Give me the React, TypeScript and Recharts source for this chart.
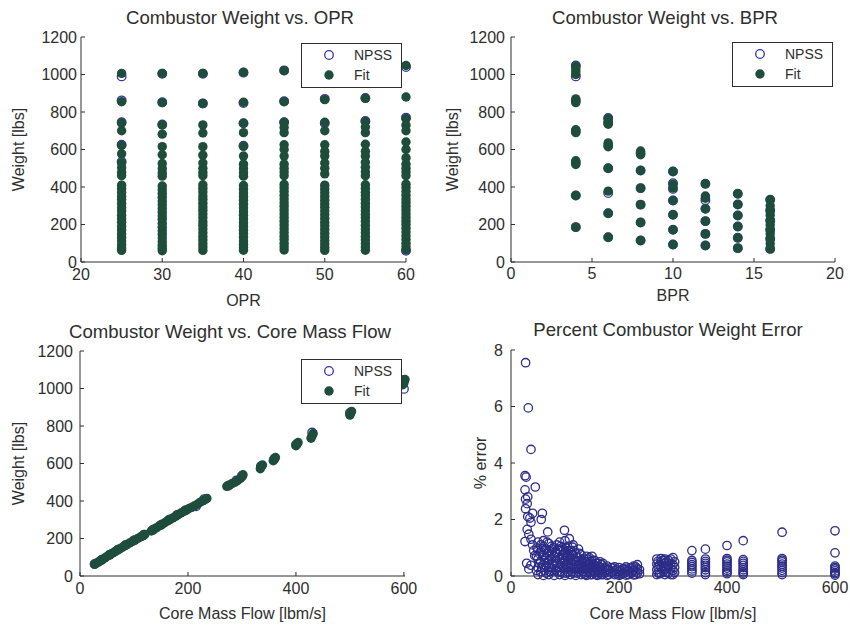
import { ScatterChart, Scatter, XAxis, YAxis, Legend } from "recharts";
import type { ReactNode } from "react";

const FIT = "#1f4d3c";
const NPSS = "#3535a8";
const ERR = "#2c2c88";
const INK = "#2e2e2e";
const FONT = '"Liberation Sans", Arial, Helvetica, sans-serif';

// --- Combustor weight vs OPR (one list of weights per OPR column)
const oprColumns = [25, 30, 35, 40, 45, 50, 55, 60];
const oprFitWeights = [
  [1006, 855, 742, 700, 622, 577, 530, 503, 478, 460, 410, 392, 371, 350, 333, 312, 290, 272, 250, 231, 212, 190, 171, 150, 131, 112, 92, 75, 62],
  [1006, 850, 731, 682, 615, 572, 525, 498, 475, 458, 405, 386, 366, 346, 325, 306, 286, 266, 246, 228, 206, 186, 166, 148, 128, 108, 90, 74, 60],
  [1006, 845, 731, 688, 615, 570, 528, 500, 478, 460, 412, 394, 374, 352, 334, 314, 294, 276, 256, 236, 214, 196, 176, 156, 136, 118, 98, 80, 62],
  [1012, 852, 740, 690, 617, 565, 522, 498, 476, 458, 408, 388, 368, 350, 330, 308, 288, 268, 250, 230, 210, 190, 170, 152, 132, 112, 94, 76, 63],
  [1020, 855, 745, 718, 690, 625, 600, 565, 522, 500, 480, 460, 414, 395, 376, 356, 336, 316, 298, 278, 258, 238, 218, 198, 178, 158, 138, 120, 100, 82, 64],
  [1012, 866, 745, 700, 625, 590, 565, 528, 500, 470, 410, 390, 370, 350, 330, 310, 292, 272, 252, 232, 212, 194, 174, 154, 134, 114, 96, 78, 62],
  [1020, 873, 750, 720, 690, 628, 590, 565, 532, 505, 480, 460, 412, 392, 372, 354, 334, 314, 294, 274, 254, 236, 216, 196, 176, 156, 136, 118, 98, 80, 63],
  [1048, 880, 765, 730, 700, 640, 600, 555, 522, 500, 480, 460, 415, 396, 376, 356, 336, 318, 298, 278, 258, 238, 218, 200, 180, 160, 140, 120, 100, 82, 64],
];
const oprNpssWeights = [
  [990, 862, 745, 625, 535],
  [1004, 852, 733],
  [1004, 846],
  [1010, 848, 740, 620],
  [1022, 857, 745],
  [870, 740],
  [875, 752],
  [1040, 770, 60],
];

// --- Combustor weight vs BPR
const bprColumns = [4, 6, 8, 10, 12, 14, 16];
const bprFitWeights = [
  [186, 355, 520, 540, 690, 705, 850, 870, 1000, 1015, 1030, 1045],
  [132, 260, 378, 500, 615, 635, 735, 750, 765],
  [115, 211, 306, 394, 488, 572, 592],
  [93, 172, 252, 328, 395, 415, 483],
  [88, 150, 218, 284, 340, 352, 417],
  [74, 129, 189, 248, 307, 364],
  [70, 98, 124, 150, 172, 198, 221, 250, 275, 300, 332],
];
const bprNpssWeights = [
  [186, 355, 530, 698, 860, 990, 1048],
  [132, 260, 368, 500, 622, 742, 768],
  [115, 211, 306, 394, 488, 580],
  [93, 172, 252, 328, 390, 420, 483],
  [88, 150, 218, 284, 330, 417],
  [74, 129, 189, 248, 307, 364],
  [70, 124, 172, 221, 275, 332],
];

// --- Combustor weight vs core mass flow [lbm/s, lbs]
const flowFit = [
  [27, 62], [30, 68], [34, 74], [38, 82], [42, 90], [46, 96], [50, 104], [55, 112], [60, 122], [64, 128],
  [68, 136], [73, 144], [78, 152], [82, 160], [87, 168], [92, 176], [97, 184], [102, 192], [107, 200],
  [112, 208], [116, 214], [120, 222],
  [132, 240], [137, 250], [142, 258], [147, 268], [152, 276], [157, 284], [162, 294], [167, 302],
  [172, 310], [177, 318], [182, 328], [187, 336], [192, 344], [197, 352], [202, 360], [207, 366],
  [212, 374], [217, 382], [222, 392], [227, 400], [232, 408], [235, 414],
  [272, 478], [277, 486], [282, 494], [287, 500], [292, 510], [297, 520], [300, 530], [302, 540],
  [334, 572], [336, 584], [338, 592],
  [358, 615], [360, 625], [362, 632],
  [400, 695], [402, 705], [404, 712],
  [428, 735], [430, 748], [432, 760],
  [500, 858], [501, 868], [503, 878],
  [598, 1020], [600, 1030], [600, 1040], [602, 1048],
];
const flowNpss = [
  [27, 64], [40, 86], [55, 114], [70, 140], [85, 166], [100, 190], [118, 220], [135, 246], [150, 272],
  [165, 300], [180, 326], [195, 350], [215, 372], [230, 410], [275, 482], [290, 510], [300, 535],
  [335, 585], [360, 625], [400, 700], [430, 765], [500, 870], [600, 998], [600, 1045],
];

// --- Percent weight error vs core mass flow
const errSmallFlow = [
  [27, 7.55], [32, 5.95], [37, 4.48], [26, 3.55], [28, 3.5], [45, 3.15], [26, 3.05], [27, 2.72],
  [31, 2.8], [30, 2.56], [27, 2.38], [40, 2.22], [35, 2.05], [31, 2.1], [37, 1.9], [58, 2.22],
  [56, 2.0], [30, 1.65], [33, 1.48], [68, 1.56], [99, 1.62], [26, 1.22], [37, 1.3], [108, 1.32],
  [114, 1.02], [40, 1.1], [29, 0.45], [33, 0.25], [37, 0.38], [42, 0.9], [44, 0.72], [48, 1.0],
];
const errMidFlow = [
  [50, 0.05], [50, 0.3], [50, 0.6], [50, 0.95], [50, 1.2], [55, 0.15], [55, 0.5], [55, 0.85], [55, 1.1],
  [60, 0.02], [60, 0.4], [60, 0.75], [60, 1.05], [60, 1.25], [65, 0.1], [65, 0.35], [65, 0.65], [65, 0.95],
  [70, 0.05], [70, 0.3], [70, 0.55], [70, 0.9], [70, 1.15], [75, 0.2], [75, 0.6], [75, 0.85], [75, 1.05],
  [80, 0.02], [80, 0.35], [80, 0.7], [80, 1.0], [85, 0.15], [85, 0.45], [85, 0.8], [85, 1.1],
  [90, 0.05], [90, 0.3], [90, 0.6], [90, 0.9], [90, 1.2], [95, 0.1], [95, 0.5], [95, 0.75], [95, 1.0],
  [100, 0.02], [100, 0.25], [100, 0.55], [100, 0.85], [100, 1.25], [105, 0.15], [105, 0.45], [105, 0.7], [105, 1.05],
  [110, 0.05], [110, 0.3], [110, 0.6], [110, 0.9], [115, 0.1], [115, 0.4], [115, 0.75], [115, 1.1],
  [120, 0.02], [120, 0.25], [120, 0.5], [120, 0.8], [125, 0.15], [125, 0.4], [125, 0.65], [125, 0.95],
  [130, 0.05], [130, 0.3], [130, 0.55], [130, 0.75], [135, 0.1], [135, 0.35], [135, 0.6],
  [140, 0.02], [140, 0.25], [140, 0.5], [140, 0.7], [145, 0.15], [145, 0.4], [145, 0.65],
  [150, 0.05], [150, 0.3], [150, 0.55], [150, 0.7], [155, 0.1], [155, 0.35], [155, 0.55],
  [160, 0.02], [160, 0.2], [160, 0.45], [165, 0.1], [165, 0.3], [165, 0.5], [170, 0.05], [170, 0.25], [170, 0.45],
  [178, 0.02], [178, 0.2], [178, 0.35], [185, 0.1], [185, 0.3], [192, 0.05], [192, 0.2], [192, 0.32],
  [200, 0.02], [200, 0.15], [200, 0.3], [207, 0.08], [207, 0.25], [213, 0.03], [213, 0.18], [213, 0.32],
  [220, 0.1], [220, 0.28], [227, 0.04], [227, 0.2], [227, 0.35], [234, 0.1], [234, 0.25], [234, 0.4],
];
const errMidFlowMore = [
  [47, 0.2], [47, 0.7], [52, 0.45], [52, 0.8], [57, 0.3], [57, 0.95], [62, 0.2], [62, 0.55], [62, 0.9],
  [67, 0.45], [67, 0.8], [67, 1.2], [72, 0.15], [72, 0.7], [77, 0.4], [77, 0.95], [82, 0.2], [82, 0.55],
  [82, 0.85], [87, 0.3], [87, 0.65], [87, 0.95], [92, 0.15], [92, 0.45], [92, 1.05], [97, 0.3], [97, 0.65],
  [97, 0.9], [102, 0.1], [102, 0.4], [102, 0.7], [102, 1.0], [107, 0.3], [107, 0.55], [107, 0.9],
  [112, 0.15], [112, 0.45], [112, 0.75], [117, 0.25], [117, 0.55], [117, 0.9], [122, 0.1], [122, 0.35],
  [122, 0.65], [127, 0.25], [127, 0.5], [127, 0.8], [132, 0.15], [132, 0.45], [137, 0.05], [137, 0.25],
  [137, 0.5], [142, 0.12], [142, 0.38], [142, 0.6], [147, 0.05], [147, 0.28], [147, 0.52], [152, 0.15],
  [152, 0.42], [157, 0.05], [157, 0.25], [157, 0.45], [162, 0.12], [162, 0.35], [167, 0.05], [167, 0.2],
  [167, 0.4], [174, 0.1], [174, 0.3], [181, 0.05], [181, 0.22], [188, 0.12], [188, 0.28], [196, 0.08],
  [196, 0.22], [203, 0.05], [203, 0.2], [210, 0.1], [210, 0.25], [217, 0.05], [217, 0.2], [224, 0.12],
  [224, 0.3], [231, 0.05], [231, 0.18], [231, 0.32], [238, 0.08], [238, 0.22],
];
const errLargeFlow = [
  [270, 0.05], [270, 0.22], [270, 0.42], [270, 0.6], [278, 0.1], [278, 0.3], [278, 0.5], [278, 0.62],
  [285, 0.05], [285, 0.25], [285, 0.45], [285, 0.6], [292, 0.1], [292, 0.35], [292, 0.55],
  [300, 0.05], [300, 0.2], [300, 0.4], [300, 0.65],
  [335, 0.9], [335, 0.55], [335, 0.4], [335, 0.25], [335, 0.1],
  [360, 0.95], [360, 0.6], [360, 0.45], [360, 0.3], [360, 0.12],
  [400, 1.08], [400, 0.62], [400, 0.5], [400, 0.35], [400, 0.2], [400, 0.08],
  [430, 1.25], [430, 0.58], [430, 0.45], [430, 0.3], [430, 0.15], [430, 0.05],
  [502, 1.55], [502, 0.62], [502, 0.5], [502, 0.35], [502, 0.2], [502, 0.05],
  [600, 1.6], [600, 0.82], [600, 0.35], [600, 0.25], [600, 0.12], [600, 0.03],
  [272, 0.12], [272, 0.32], [272, 0.52], [275, 0.08], [275, 0.4], [282, 0.15], [282, 0.38], [282, 0.55],
  [288, 0.12], [288, 0.32], [288, 0.5], [296, 0.05], [296, 0.25], [296, 0.45], [296, 0.6], [303, 0.12],
  [303, 0.3], [303, 0.5], [335, 0.18], [335, 0.33], [335, 0.48], [360, 0.05], [360, 0.22], [360, 0.38],
  [360, 0.52], [400, 0.14], [400, 0.28], [400, 0.42], [400, 0.56], [430, 0.1], [430, 0.22], [430, 0.38],
  [430, 0.52], [502, 0.12], [502, 0.28], [502, 0.42], [502, 0.56], [600, 0.08], [600, 0.18], [600, 0.3],
];

const weightTicks = [0, 200, 400, 600, 800, 1000, 1200];

const columns = (xs: number[], ys: number[][]) =>
  xs.flatMap((x, i) => ys[i].map((y) => ({ x, y })));
const pairs = (rows: number[][]) => rows.map(([x, y]) => ({ x, y }));

const fitDot = (p: any) => <circle cx={p.cx} cy={p.cy} r={4.7} fill={FIT} />;
const npssRing = (p: any) => (
  <circle cx={p.cx} cy={p.cy} r={4.3} fill="none" stroke={NPSS} strokeWidth={1.3} />
);
const errRing = (p: any) => (
  <circle cx={p.cx} cy={p.cy} r={4.2} fill="none" stroke={ERR} strokeWidth={1.3} />
);

const textStyle = { fill: INK, fontSize: 16, fontFamily: FONT };

function LegendBox({ payload }: any) {
  const order = ["NPSS", "Fit"];
  const items = [...(payload ?? [])].sort(
    (a: any, b: any) => order.indexOf(a.value) - order.indexOf(b.value)
  );
  return (
    <div style={{ width: 99, height: 43, border: `1px solid ${INK}`, background: "#fff" }}>
      <svg width={99} height={43} style={{ display: "block" }}>
        {items.map((it: any, i: number) => (
          <g key={it.value}>
            {it.value === "NPSS" ? (
              <circle cx={27} cy={11 + i * 20} r={4.3} fill="none" stroke={NPSS} strokeWidth={1.3} />
            ) : (
              <circle cx={27} cy={11 + i * 20} r={4.7} fill={FIT} />
            )}
            <text x={52} y={16 + i * 20} fontFamily={FONT} fontSize={14} fill={INK}>
              {it.value}
            </text>
          </g>
        ))}
      </svg>
    </div>
  );
}

type PanelProps = {
  left: number;
  top: number;
  height: number;
  title: string;
  titleY: number;
  titleX: number;
  yWidth: number;
  right: number;
  plotTop: number;
  xHeight: number;
  xDomain: [number, number];
  xTicks: number[];
  yDomain: [number, number];
  yTicks: number[];
  xLabel: string;
  yLabel: string;
  xLabelOffset: number;
  yLabelOffset: number;
  xTickMargin: number;
  yTickMargin: number;
  legendAt?: { left: number; top: number };
  children: ReactNode;
};

function Panel(p: PanelProps) {
  return (
    <div style={{ position: "absolute", left: p.left, top: p.top, width: 425, height: p.height }}>
      <div
        style={{
          position: "absolute",
          left: p.titleX - 200,
          width: 400,
          top: p.titleY - 11,
          lineHeight: "22px",
          textAlign: "center",
          fontFamily: FONT,
          fontSize: 18.6,
          color: INK,
          whiteSpace: "nowrap",
        }}
      >
        {p.title}
      </div>
      <ScatterChart
        width={425}
        height={p.height}
        margin={{ top: p.plotTop, right: p.right, left: 0, bottom: 0 }}
      >
        <XAxis
          type="number"
          dataKey="x"
          domain={p.xDomain}
          ticks={p.xTicks}
          interval={0}
          height={p.xHeight}
          axisLine={{ stroke: INK }}
          tickLine={{ stroke: INK }}
          tickSize={-4}
          tickMargin={p.xTickMargin}
          tick={textStyle}
          label={{ value: p.xLabel, position: "insideBottom", offset: p.xLabelOffset, style: textStyle }}
        />
        <YAxis
          type="number"
          dataKey="y"
          domain={p.yDomain}
          ticks={p.yTicks}
          interval={0}
          width={p.yWidth}
          axisLine={{ stroke: INK }}
          tickLine={{ stroke: INK }}
          tickSize={-4}
          tickMargin={p.yTickMargin}
          tick={textStyle}
          label={{
            value: p.yLabel,
            angle: -90,
            position: "insideLeft",
            offset: p.yLabelOffset,
            style: { ...textStyle, textAnchor: "middle" },
          }}
        />
        {p.children}
        {p.legendAt && (
          <Legend
            layout="vertical"
            align="center"
            verticalAlign="middle"
            content={<LegendBox />}
            wrapperStyle={{ left: p.legendAt.left, top: p.legendAt.top, width: 101, height: 45 }}
          />
        )}
      </ScatterChart>
    </div>
  );
}

export default function App() {
  return (
    <div style={{ position: "absolute", left: 0, top: 0, width: 850, height: 627, background: "#fff" }}>
      <Panel
        left={0} top={0} height={310}
        title="Combustor Weight vs. OPR" titleX={240} titleY={18}
        yWidth={81} right={19} plotTop={37} xHeight={48}
        xDomain={[20, 60]} xTicks={[20, 30, 40, 50, 60]}
        yDomain={[0, 1200]} yTicks={weightTicks}
        xLabel="OPR" yLabel="Weight [lbs]"
        xLabelOffset={4} yLabelOffset={18} xTickMargin={11} yTickMargin={8}
        legendAt={{ left: 301, top: 43 }}
      >
        <Scatter name="NPSS" data={columns(oprColumns, oprNpssWeights)} shape={npssRing} isAnimationActive={false} />
        <Scatter name="Fit" data={columns(oprColumns, oprFitWeights)} shape={fitDot} isAnimationActive={false} />
      </Panel>
      <Panel
        left={425} top={0} height={310}
        title="Combustor Weight vs. BPR" titleX={240} titleY={18}
        yWidth={86} right={15} plotTop={37} xHeight={48}
        xDomain={[0, 20]} xTicks={[0, 5, 10, 15, 20]}
        yDomain={[0, 1200]} yTicks={weightTicks}
        xLabel="BPR" yLabel="Weight [lbs]"
        xLabelOffset={9} yLabelOffset={27} xTickMargin={10} yTickMargin={10}
        legendAt={{ left: 307, top: 42 }}
      >
        <Scatter name="NPSS" data={columns(bprColumns, bprNpssWeights)} shape={npssRing} isAnimationActive={false} />
        <Scatter name="Fit" data={columns(bprColumns, bprFitWeights)} shape={fitDot} isAnimationActive={false} />
      </Panel>
      <Panel
        left={0} top={310} height={317}
        title="Combustor Weight vs. Core Mass Flow" titleX={230} titleY={22}
        yWidth={80} right={20} plotTop={41} xHeight={51}
        xDomain={[0, 600]} xTicks={[0, 200, 400, 600]}
        yDomain={[0, 1200]} yTicks={weightTicks}
        xLabel="Core Mass Flow [lbm/s]" yLabel="Weight [lbs]"
        xLabelOffset={8} yLabelOffset={18} xTickMargin={11} yTickMargin={11}
        legendAt={{ left: 301, top: 49 }}
      >
        <Scatter name="NPSS" data={pairs(flowNpss)} shape={npssRing} isAnimationActive={false} />
        <Scatter name="Fit" data={pairs(flowFit)} shape={fitDot} isAnimationActive={false} />
      </Panel>
      <Panel
        left={425} top={310} height={317}
        title="Percent Combustor Weight Error" titleX={243} titleY={20}
        yWidth={86} right={15} plotTop={40} xHeight={51}
        xDomain={[0, 600]} xTicks={[0, 200, 400, 600]}
        yDomain={[0, 8]} yTicks={[0, 2, 4, 6, 8]}
        xLabel="Core Mass Flow [lbm/s]" yLabel="% error"
        xLabelOffset={8} yLabelOffset={55} xTickMargin={10} yTickMargin={12}
      >
        <Scatter
          name="error"
          data={[...pairs(errSmallFlow), ...pairs(errMidFlow), ...pairs(errMidFlowMore), ...pairs(errLargeFlow)]}
          shape={errRing}
          isAnimationActive={false}
        />
      </Panel>
    </div>
  );
}
